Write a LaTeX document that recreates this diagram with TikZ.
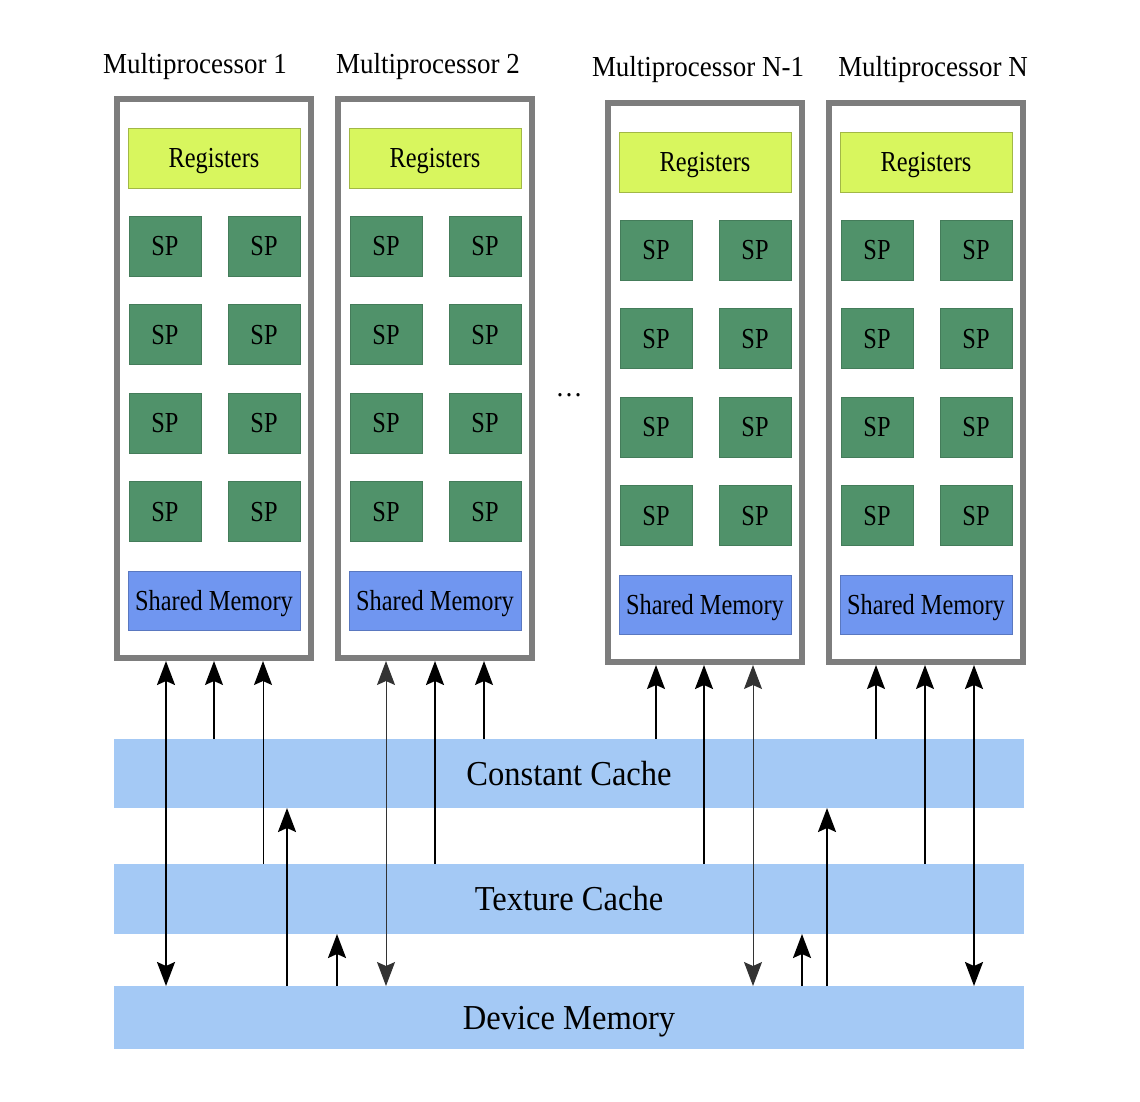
\documentclass[tikz,border=0pt]{standalone}
\usepackage{fontspec}
\setmainfont{Liberation Serif}[FakeStretch=0.93]
\newfontfamily\condfont{Liberation Serif}[FakeStretch=0.84]
\usetikzlibrary{arrows.meta}
\definecolor{mpgray}{RGB}{125,125,125}
\definecolor{regcol}{RGB}{216,246,94}
\definecolor{spcol}{RGB}{80,146,106}
\definecolor{shcol}{RGB}{112,150,240}
\definecolor{cachecol}{RGB}{164,201,245}
\begin{document}
\begin{tikzpicture}[x=1pt,y=-1pt,
  mpbox/.style={draw=mpgray,line width=6pt,fill=white,minimum width=194pt,minimum height=559pt,inner sep=0pt},
  intext/.style={font=\condfont\fontsize{29}{32}\selectfont,text height=19.1pt,text depth=0pt,inner sep=0pt},
  regbox/.style={intext,fill=regcol,draw=regcol!75!black,line width=0.5pt,minimum width=172pt,minimum height=60pt},
  spbox/.style={intext,fill=spcol,draw=spcol!85!black,line width=0.5pt,minimum width=72pt,minimum height=60pt},
  shbox/.style={intext,fill=shcol,draw=shcol!80!black,line width=0.5pt,minimum width=172pt,minimum height=59pt},
  mplabel/.style={font=\fontsize{29}{33}\selectfont,anchor=base,inner sep=0pt},
  cachebar/.style={fill=cachecol,minimum width=910pt,outer sep=0pt,inner sep=0pt,
     font=\fontsize{35}{40}\selectfont,text height=23.1pt,text depth=0pt},
  upthick/.style={-{Stealth[length=24pt,width=18pt,inset=4pt]},line width=2pt},
  upmed/.style={-{Stealth[length=24pt,width=18pt,inset=4pt]},line width=1.4pt},
  upthin/.style={-{Stealth[length=24pt,width=18pt,inset=4pt]},line width=1pt},
  bithick/.style={{Stealth[length=24pt,width=18pt,inset=4pt]}-{Stealth[length=24pt,width=18pt,inset=4pt]},line width=2pt},
  bithin/.style={{Stealth[length=24pt,width=18pt,inset=4pt]}-{Stealth[length=24pt,width=18pt,inset=4pt]},line width=1pt,draw=black!80}
]
\useasboundingbox (0,0) rectangle (1140,1102);

% multiprocessors
\foreach \i/\l/\t/\lx/\ly/\name in {1/114/96/195/74/Multiprocessor 1,2/335/96/428/74/Multiprocessor 2,3/605/100/698/77/Multiprocessor N-1,4/826/100/933/77/Multiprocessor N}{
  \node[mpbox] (mp\i) at (\l+100,\t+282.5) {};
  \node[mplabel] (lab\i) at (\lx,\ly) {\name};
  \node[regbox] (reg\i) at (\l+100,\t+62) {Registers};
  \foreach \r in {0,1,2,3}{
    \node[spbox] (sp\i-\r-a) at (\l+51,\t+150+88.5*\r) {SP};
    \node[spbox] (sp\i-\r-b) at (\l+150,\t+150+88.5*\r) {SP};
  }
  \node[shbox] (sh\i) at (\l+100,\t+504.5) {Shared Memory};
}

\node[font=\fontsize{29}{32}\selectfont,inner sep=0pt,anchor=base] (dots) at (569,396) {\ldots};

% memory bars
\node[cachebar,minimum height=69pt] (cc) at (569,773.5) {Constant Cache};
\node[cachebar,minimum height=70pt] (tc) at (569,899) {Texture Cache};
\node[cachebar,minimum height=63pt] (dev) at (569,1017.5) {Device Memory};

% connectors
\foreach \n/\x/\s/\e/\st in {
  a/166/mp1.south/dev.north/bithick,
  b/214/cc.north/mp1.south/upmed,
  c/263/tc.north/mp1.south/upthin,
  d/287/dev.north/cc.south/upthick,
  e/337/dev.north/tc.south/upthick,
  f/386/mp2.south/dev.north/bithin,
  g/435/tc.north/mp2.south/upthick,
  h/484/cc.north/mp2.south/upmed,
  i/656/cc.north/mp3.south/upmed,
  j/704/tc.north/mp3.south/upthick,
  k/753/mp3.south/dev.north/bithin,
  l/802/dev.north/tc.south/upthick,
  m/827/dev.north/cc.south/upthick,
  n/876/cc.north/mp4.south/upmed,
  o/925/tc.north/mp4.south/upmed,
  p/974/mp4.south/dev.north/bithick}{
  \coordinate (x\n) at (\x,0);
  \draw[\st] (\s -| x\n) -- (\e -| x\n);
}
\end{tikzpicture}
\end{document}
